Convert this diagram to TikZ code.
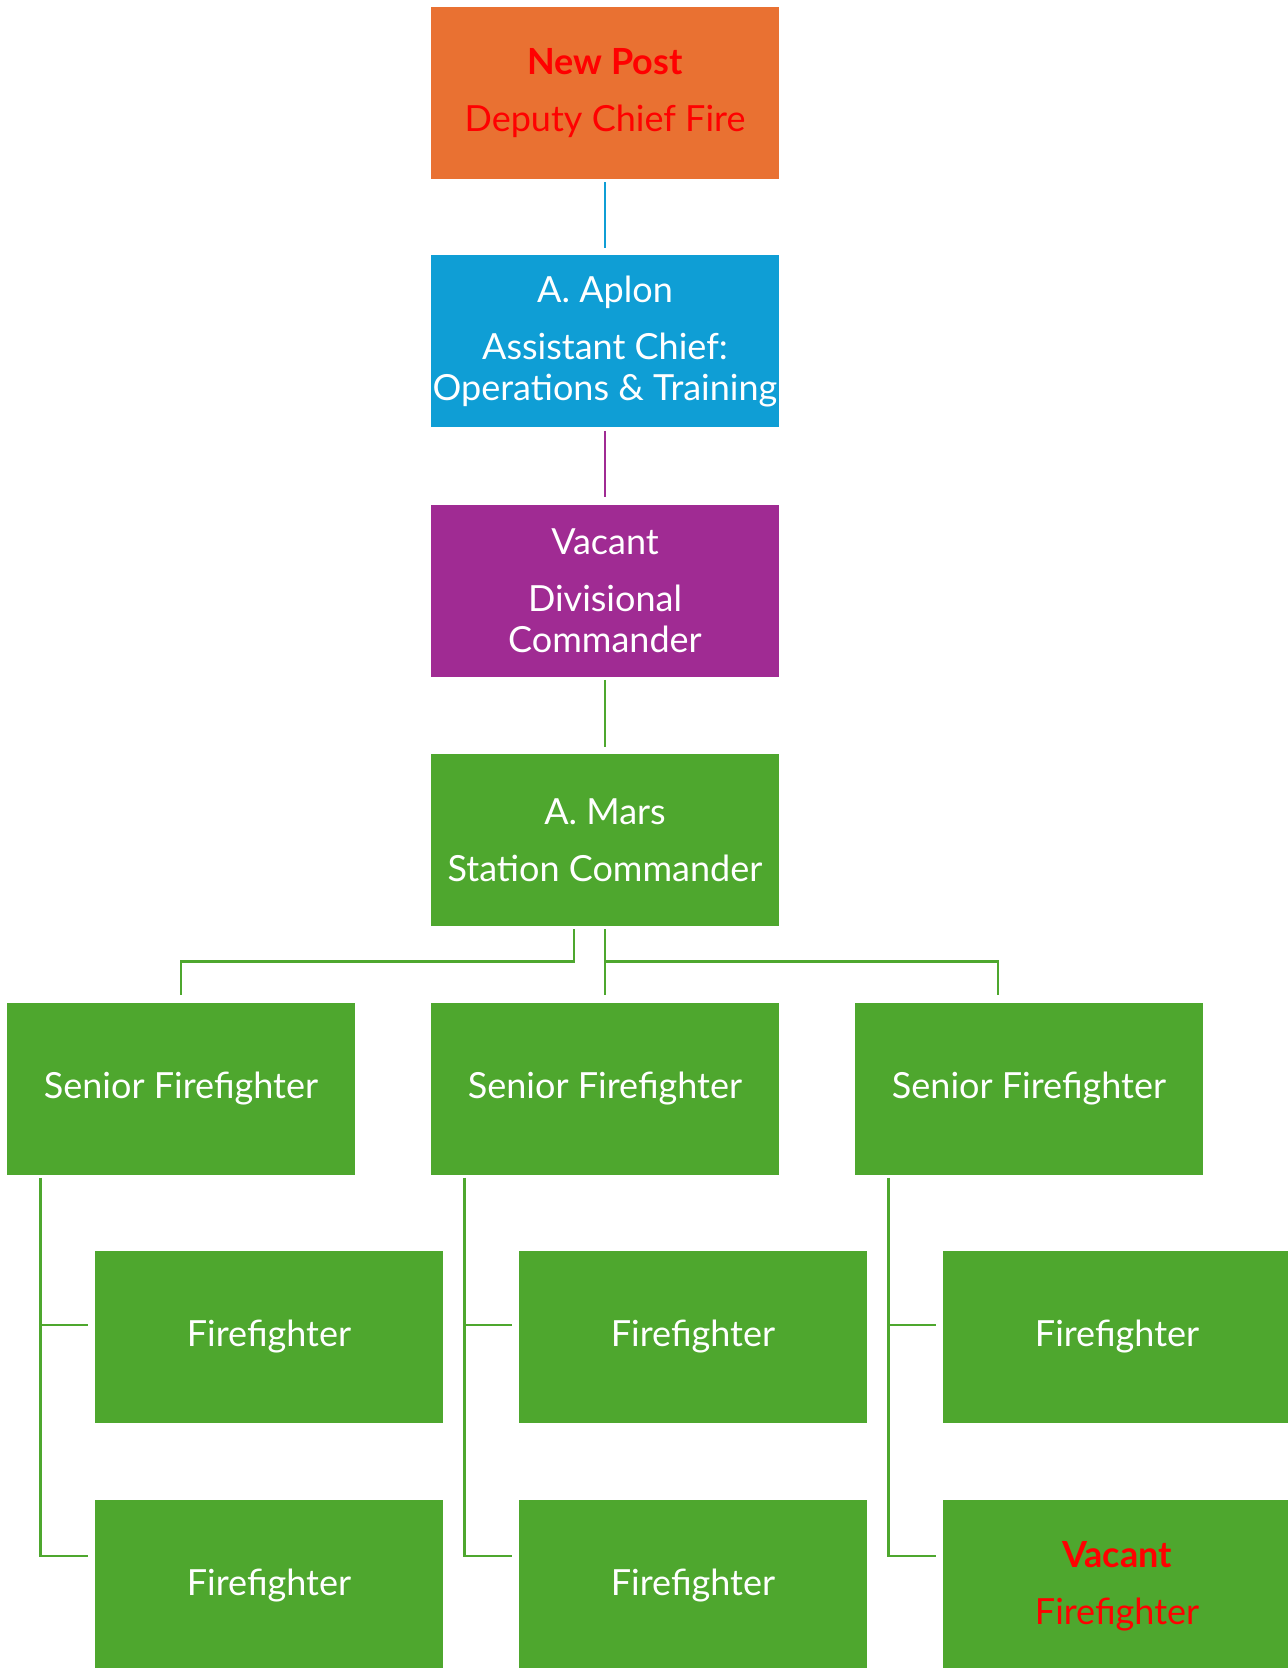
\documentclass[tikz,border=0pt]{standalone}
\usepackage{fontspec}
\setmainfont{Lato}
\usepackage{tikz}
\pgfdeclarelayer{bg}
\pgfsetlayers{bg,main}
\definecolor{postorange}{HTML}{E97132}
\definecolor{postblue}{HTML}{0F9ED5}
\definecolor{postpurple}{HTML}{A02B93}
\definecolor{postgreen}{HTML}{4EA72E}
\definecolor{vacantred}{HTML}{FF0000}
\tikzset{
        post/.style={minimum width=174pt, minimum height=86pt, inner sep=0pt, align=center,
                text=white, font=\fontsize{18}{20.5}\selectfont},
        link/.style={line width=1.2pt, shorten <=1.5pt, shorten >=3.5pt},
}

\begin{document}
\begin{tikzpicture}[x=0.5pt,y=-0.5pt]
        \useasboundingbox (0,0) rectangle (1288,1668);
        \clip (0,0) rectangle (1288,1668);
        \node (dcf) [post, fill=postorange, text=vacantred] at (605,93) {\textbf{New Post}\\[8pt]Deputy Chief Fire};
        \node (acf) [post, fill=postblue] at (605,341.5) {A. Aplon\\[8pt]Assistant Chief:\\Operations \& Training};
        \node (dvc) [post, fill=postpurple] at (605,590.5) {Vacant\\[8pt]Divisional\\Commander};
        \node (stc) [post, fill=postgreen] at (605,840) {A. Mars\\[8pt]Station Commander};
        \node (sf1) [post, fill=postgreen] at (181,1088.5) {Senior Firefighter};
        \node (sf2) [post, fill=postgreen] at (605,1088.5) {Senior Firefighter};
        \node (sf3) [post, fill=postgreen] at (1029,1088.5) {Senior Firefighter};
        \node (ff11) [post, fill=postgreen] at (269,1337) {Firefighter};
        \node (ff12) [post, fill=postgreen] at (269,1586) {Firefighter};
        \node (ff21) [post, fill=postgreen] at (693,1337) {Firefighter};
        \node (ff22) [post, fill=postgreen] at (693,1586) {Firefighter};
        \node (ff31) [post, fill=postgreen] at (1117,1337) {Firefighter};
        \node (ff32) [post, fill=postgreen, text=vacantred] at (1117,1586) {\textbf{Vacant}\\[8pt]Firefighter};
        \coordinate (bus) at ([yshift=-17.5pt]stc.south);
        \coordinate (tr1) at ([xshift=17pt]sf1.south west);
        \coordinate (tr2) at ([xshift=17pt]sf2.south west);
        \coordinate (tr3) at ([xshift=17pt]sf3.south west);
        \begin{pgfonlayer}{bg}
                \draw [link, postblue] (dcf.south) -- (acf.north);
                \draw [link, postpurple] (acf.south) -- (dvc.north);
                \draw [link, postgreen] (dvc.south) -- (stc.north);
                \draw [link, postgreen] ([xshift=-15.5pt]stc.south) |- (bus -| sf1.north) -- (sf1.north);
                \draw [link, postgreen] (stc.south) -- (sf2.north);
                \draw [link, postgreen, shorten <=0pt] (bus) -| ([xshift=-15.5pt]sf3.north);
                \draw [link, postgreen] (tr1) |- ([yshift=6pt]ff11.west);
                \draw [link, postgreen] (tr1) |- ([yshift=15pt]ff12.west);
                \draw [link, postgreen] (tr2) |- ([yshift=6pt]ff21.west);
                \draw [link, postgreen] (tr2) |- ([yshift=15pt]ff22.west);
                \draw [link, postgreen] (tr3) |- ([yshift=6pt]ff31.west);
                \draw [link, postgreen] (tr3) |- ([yshift=15pt]ff32.west);
        \end{pgfonlayer}
\end{tikzpicture}
\end{document}
